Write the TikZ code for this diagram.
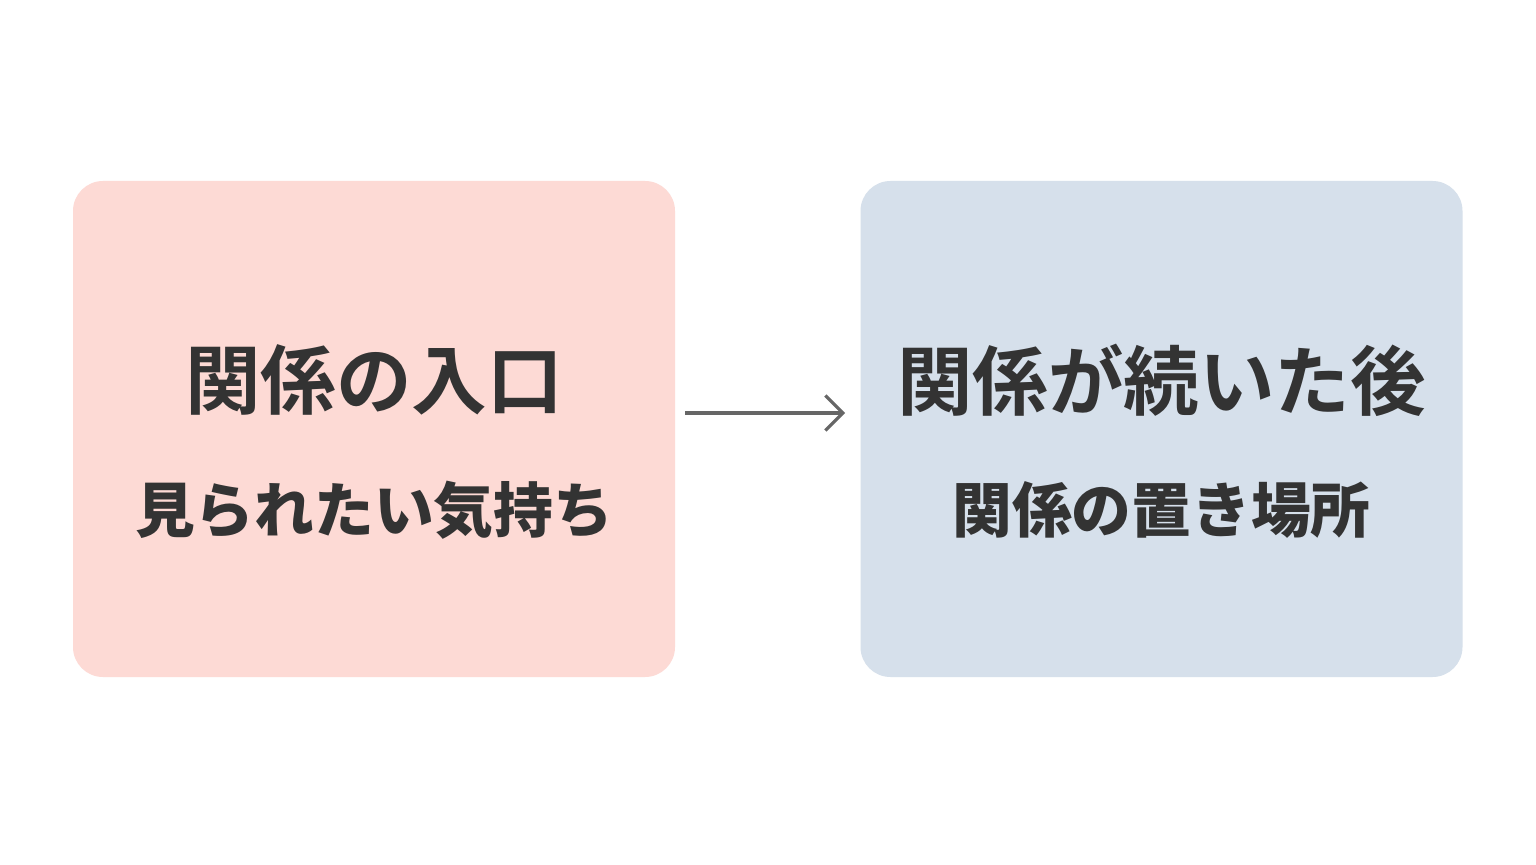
\documentclass[tikz,border=0pt]{standalone}
\usepackage{fontspec}
\newfontfamily\cjk{Noto Sans CJK JP}
\newfontfamily\cjkb{Noto Sans CJK JP Bold}
\usetikzlibrary{positioning}
\usetikzlibrary{arrows.meta}
\definecolor{pinkbox}{HTML}{FDDAD5}
\definecolor{bluebox}{HTML}{D6E0EB}
\definecolor{inkgray}{HTML}{333333}
\definecolor{arrowgray}{HTML}{666666}

\begin{document}
\begin{tikzpicture}
        \useasboundingbox[fill=white] (0,0) rectangle (30.72,17.28);
        \begin{scope}[every node/.style={rounded corners=0.6cm,minimum width=12.04cm,minimum height=9.92cm}]
            \node[fill=pinkbox] (entry) at (7.48,8.70) {};
            \node[fill=bluebox] (after) at (23.23,8.70) {};
        \end{scope}

        \begin{scope}[every node/.style={text=inkgray}]
            \node[font=\cjkb\fontsize{43}{47}\selectfont] (entrytitle) at (7.48,9.68) {関係の入口};
            \node[font=\cjk\fontsize{34}{38}\selectfont\bfseries] (entrysub) at (7.48,7.08) {見られたい気持ち};
            \node[font=\cjkb\fontsize{43}{47}\selectfont] (aftertitle) at (23.23,9.68) {関係が続いた後};
            \node[font=\cjk\fontsize{34}{38}\selectfont\bfseries] (aftersub) at (23.23,7.08) {関係の置き場所};
        \end{scope}

        \coordinate (from) at (13.70,9.02);
        \coordinate (to) at (16.90,9.02);
        \draw[-{Straight Barb[length=3.5mm,width=7mm]},arrowgray,line width=1.8pt] (from) -- (to);
    \end{tikzpicture}
\end{document}
